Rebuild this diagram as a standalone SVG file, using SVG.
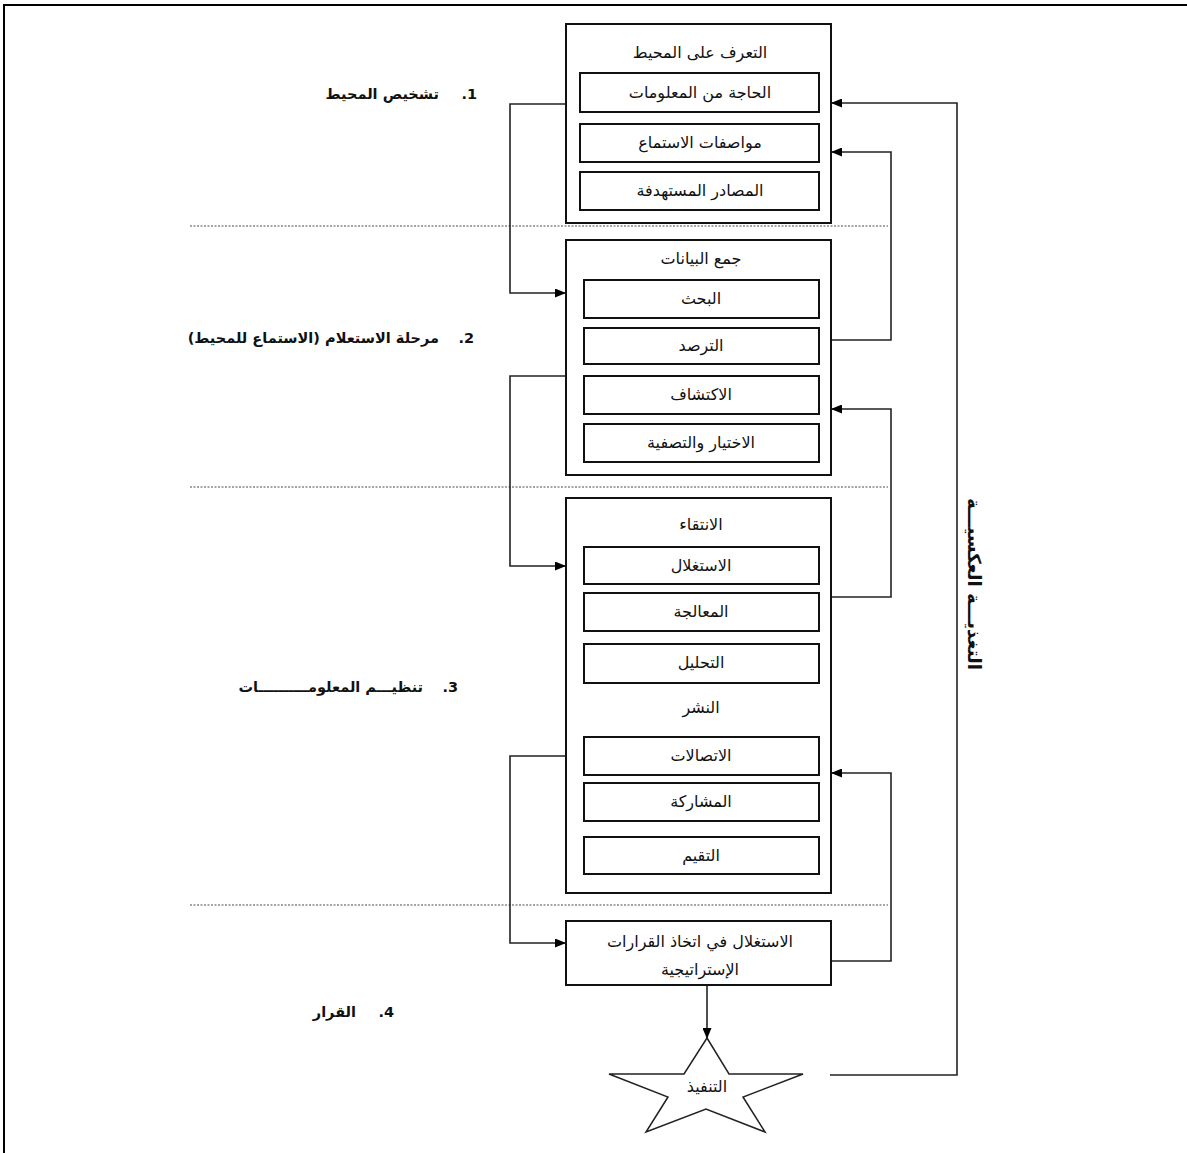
<svg xmlns="http://www.w3.org/2000/svg" width="1187" height="1153" viewBox="0 0 1187 1153">
  <style>
    .frame { fill: none; stroke: #000; stroke-width: 2; }
    .box { fill: #fff; stroke: #111; stroke-width: 2; }
    .item { fill: #fff; stroke: #111; stroke-width: 2; }
    .sep { fill: none; stroke: #888; stroke-width: 1.5; stroke-dasharray: 2 1.5; }
    .link { fill: none; stroke: #222; stroke-width: 1.6; marker-end: url(#arrow); }
    text { font-family: "DejaVu Sans", "Liberation Sans", sans-serif; fill: #111; }
    .t { font-size: 16px; text-anchor: middle; direction: rtl; }
    .stage { font-size: 14.5px; font-weight: bold; direction: rtl; text-anchor: start; }
    .side { font-size: 18px; font-weight: bold; text-anchor: middle; direction: rtl; }
  </style>
  <defs>
    <marker id="arrow" markerUnits="userSpaceOnUse" markerWidth="11" markerHeight="9" refX="11" refY="4.5" orient="auto">
      <path d="M0,0 L11,4.5 L0,9 z" fill="#000"/>
    </marker>
  </defs>

  <!-- page frame (top and left edges) -->
  <path class="frame" d="M4,1153 V5 H1187"/>

  <!-- stage separators -->
  <g id="separators">
    <line class="sep" x1="190" y1="226" x2="888" y2="226"/>
    <line class="sep" x1="190" y1="487" x2="888" y2="487"/>
    <line class="sep" x1="190" y1="905" x2="888" y2="905"/>
  </g>

  <!-- stage labels: number and title set apart -->
  <g id="stage-labels">
    <text class="stage" x="477" y="99">1.</text>
    <text class="stage" x="439" y="99">تشخيص المحيط</text>
    <text class="stage" x="474" y="343">2.</text>
    <text class="stage" x="439" y="343">مرحلة الاستعلام (الاستماع للمحيط)</text>
    <text class="stage" x="458" y="692">3.</text>
    <text class="stage" x="423" y="692">تنظيـــم المعلومــــــــــات</text>
    <text class="stage" x="394" y="1017">4.</text>
    <text class="stage" x="356" y="1017">القرار</text>
  </g>

  <!-- connectors -->
  <g id="connectors">
    <path class="link" d="M566,104 H510 V293 H566"/>
    <path class="link" d="M831,340 H891 V152 H831"/>
    <path class="link" d="M566,376 H510 V566 H566"/>
    <path class="link" d="M831,597 H891 V409 H831"/>
    <path class="link" d="M566,756 H510 V943 H566"/>
    <path class="link" d="M831,961 H891 V773 H831"/>
    <path class="link" d="M707,985 V1039"/>
    <path class="link" d="M830,1075 H957 V103 H831"/>
  </g>

  <!-- feedback label -->
  <text class="side" transform="translate(968,584) rotate(90)">التغذيـــة العكسيـــة</text>

  <!-- stage 1: environment diagnosis -->
  <g id="node-environment">
    <rect class="box" x="566" y="24" width="265" height="199"/>
    <text class="t" x="700" y="58">التعرف على المحيط</text>
    <rect class="item" x="580" y="73" width="239" height="39"/>
    <text class="t" x="700" y="98">الحاجة من المعلومات</text>
    <rect class="item" x="580" y="124" width="239" height="38"/>
    <text class="t" x="700" y="148">مواصفات الاستماع</text>
    <rect class="item" x="580" y="172" width="239" height="38"/>
    <text class="t" x="700" y="196">المصادر المستهدفة</text>
  </g>

  <!-- stage 2: data collection -->
  <g id="node-collection">
    <rect class="box" x="566" y="240" width="265" height="235"/>
    <text class="t" x="701" y="264">جمع البيانات</text>
    <rect class="item" x="584" y="280" width="235" height="38"/>
    <text class="t" x="701" y="304">البحث</text>
    <rect class="item" x="584" y="328" width="235" height="36"/>
    <text class="t" x="701" y="351">الترصد</text>
    <rect class="item" x="584" y="376" width="235" height="38"/>
    <text class="t" x="701" y="400">الاكتشاف</text>
    <rect class="item" x="584" y="424" width="235" height="38"/>
    <text class="t" x="701" y="448">الاختيار والتصفية</text>
  </g>

  <!-- stage 3: information organisation -->
  <g id="node-organisation">
    <rect class="box" x="566" y="498" width="265" height="395"/>
    <text class="t" x="701" y="530">الانتقاء</text>
    <rect class="item" x="584" y="547" width="235" height="37"/>
    <text class="t" x="701" y="571">الاستغلال</text>
    <rect class="item" x="584" y="593" width="235" height="38"/>
    <text class="t" x="701" y="617">المعالجة</text>
    <rect class="item" x="584" y="644" width="235" height="39"/>
    <text class="t" x="701" y="668">التحليل</text>
    <text class="t" x="701" y="713">النشر</text>
    <rect class="item" x="584" y="737" width="235" height="38"/>
    <text class="t" x="701" y="761">الاتصالات</text>
    <rect class="item" x="584" y="783" width="235" height="38"/>
    <text class="t" x="701" y="807">المشاركة</text>
    <rect class="item" x="584" y="837" width="235" height="37"/>
    <text class="t" x="701" y="861">التقيم</text>
  </g>

  <!-- stage 4: decision -->
  <g id="node-decision">
    <rect class="box" x="566" y="921" width="265" height="64"/>
    <text class="t" x="700" y="947">الاستغلال في اتخاذ القرارات</text>
    <text class="t" x="700" y="975">الإستراتيجية</text>
  </g>

  <!-- execution -->
  <g id="node-execution">
    <polygon points="707,1038 729,1074 803,1074 743,1097 765,1132 706,1109 646,1132 668,1097 609,1074 684,1074" fill="#fff" stroke="#222" stroke-width="1.5"/>
    <text class="t" x="707" y="1092">التنفيذ</text>
  </g>
</svg>
